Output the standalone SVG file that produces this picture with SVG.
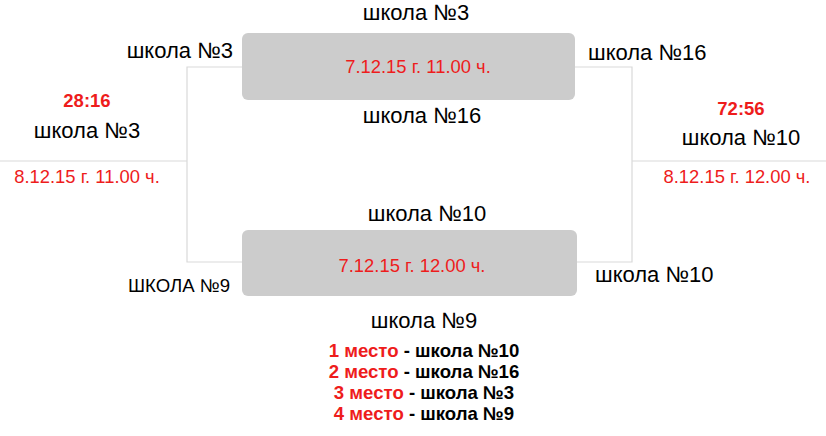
<svg xmlns="http://www.w3.org/2000/svg" width="826" height="436" viewBox="0 0 826 436">
<style>
.t{font-family:"Liberation Sans",Arial,sans-serif;font-size:22px;fill:#000}
.d{font-family:"Liberation Sans",Arial,sans-serif;font-size:18.4px;fill:#ee1c1c}
.s{font-family:"Liberation Sans",Arial,sans-serif;font-size:18.5px;font-weight:bold;fill:#ee1c1c}
.r{font-family:"Liberation Sans",Arial,sans-serif;font-size:18.6px;font-weight:bold;fill:#000}
.r tspan.m{fill:#ee1c1c}
.box{fill:#cccccc}
.ln{fill:none;stroke:#d9d9d9;stroke-width:1.2}
</style>
<rect width="826" height="436" fill="#fff"/>
<g id="connectors">
<polyline class="ln" points="242,67 187,67 187,262 242,262"/>
<polyline class="ln" points="575,67 632,67 632,262 575,262"/>
<line class="ln" x1="0" y1="161" x2="187" y2="161"/>
<line class="ln" x1="632" y1="161" x2="826" y2="161"/>
</g>
<g id="match1">
<rect class="box" x="242" y="33" width="333" height="67" rx="6"/>
<text class="d" x="418" y="73" text-anchor="middle">7.12.15 г. 11.00 ч.</text>
<text class="t" x="416" y="20" text-anchor="middle">школа №3</text>
<text class="t" x="422" y="123" text-anchor="middle">школа №16</text>
<text class="t" x="233" y="58" text-anchor="end">школа №3</text>
<text class="t" x="588" y="60" text-anchor="start">школа №16</text>
</g>
<g id="match2">
<rect class="box" x="242" y="230" width="335" height="66" rx="6"/>
<text class="d" x="412" y="272" text-anchor="middle">7.12.15 г. 12.00 ч.</text>
<text class="t" x="427" y="221" text-anchor="middle">школа №10</text>
<text class="t" x="424" y="328" text-anchor="middle">школа №9</text>
<text class="t" x="230" y="292" text-anchor="end" style="font-size:18.6px">ШКОЛА №9</text>
<text class="t" x="595" y="282" text-anchor="start">школа №10</text>
</g>
<g id="final-left">
<text class="s" x="87" y="107" text-anchor="middle">28:16</text>
<text class="t" x="87" y="138" text-anchor="middle">школа №3</text>
<text class="d" x="87" y="183" text-anchor="middle">8.12.15 г. 11.00 ч.</text>
</g>
<g id="final-right">
<text class="s" x="741" y="115" text-anchor="middle">72:56</text>
<text class="t" x="741" y="145" text-anchor="middle">школа №10</text>
<text class="d" x="737" y="183" text-anchor="middle">8.12.15 г. 12.00 ч.</text>
</g>
<g id="results">
<text class="r" x="424" y="357" text-anchor="middle"><tspan class="m">1 место</tspan> - школа №10</text>
<text class="r" x="424" y="378" text-anchor="middle"><tspan class="m">2 место</tspan> - школа №16</text>
<text class="r" x="424" y="399" text-anchor="middle"><tspan class="m">3 место</tspan> - школа №3</text>
<text class="r" x="424" y="420" text-anchor="middle"><tspan class="m">4 место</tspan> - школа №9</text>
</g>
</svg>
